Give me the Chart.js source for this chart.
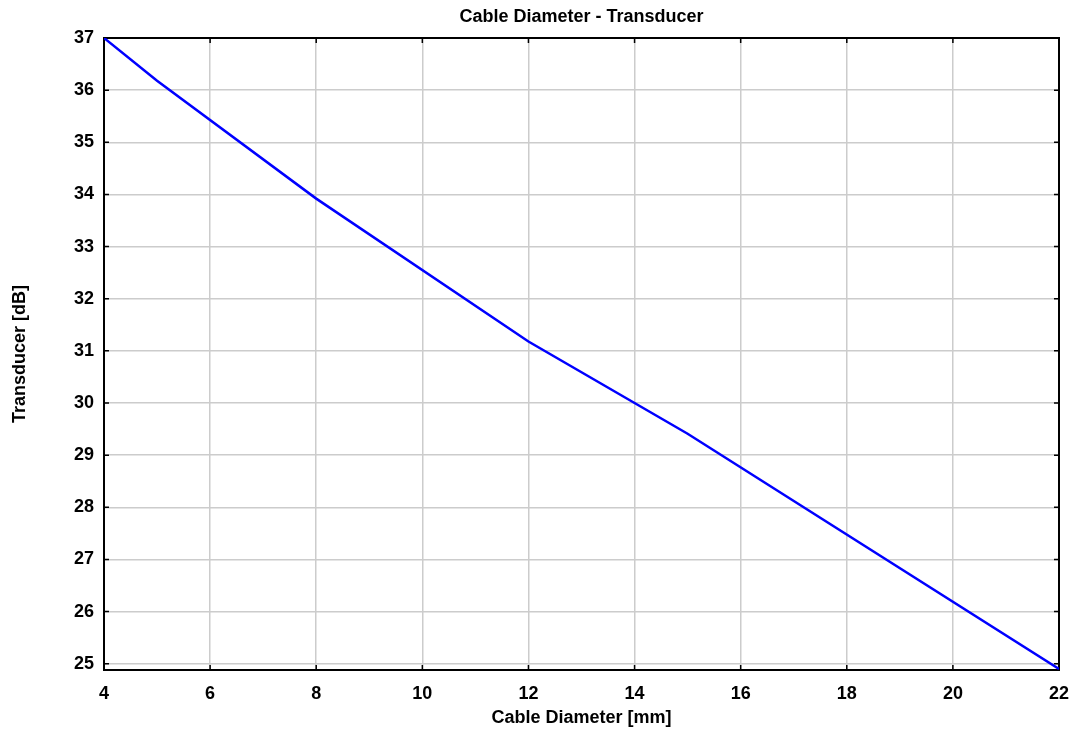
<!DOCTYPE html>
<html>
<head>
<meta charset="utf-8">
<script src="https://cdn.jsdelivr.net/npm/chart.js@4"></script>
<style>
  html, body { margin: 0; padding: 0; background: #ffffff; }
  #wrap { width: 1075px; height: 733px; position: relative; }
</style>
</head>
<body>
<div id="wrap"><canvas id="c" width="1075" height="733"></canvas></div>
<script>
const chartTitle = "Cable Diameter - Transducer";
const xAxisTitle = "Cable Diameter [mm]";
const yAxisTitle = "Transducer [dB]";
const cableDiameter = [4, 5, 8, 12, 15, 22];
const transducer = [37, 36.18, 33.92, 31.18, 29.41, 24.9];
const xTicks = [4, 6, 8, 10, 12, 14, 16, 18, 20, 22];
const yTicks = [25, 26, 27, 28, 29, 30, 31, 32, 33, 34, 35, 36, 37];

const FONT = "'Liberation Sans', Arial, sans-serif";

const framePlugin = {
  id: 'frame',
  beforeDatasetsDraw(chart) {
    const ctx = chart.ctx;
    const a = chart.chartArea;
    const xs = chart.scales.x, ys = chart.scales.y;
    ctx.save();
    ctx.strokeStyle = '#000000';
    ctx.lineWidth = 1.5;
    const L = 5;
    ctx.beginPath();
    xTicks.forEach(v => {
      const px = xs.getPixelForValue(v);
      ctx.moveTo(px, a.bottom); ctx.lineTo(px, a.bottom - L);
      ctx.moveTo(px, a.top); ctx.lineTo(px, a.top + L);
    });
    yTicks.forEach(v => {
      const py = ys.getPixelForValue(v);
      ctx.moveTo(a.left, py); ctx.lineTo(a.left + L, py);
      ctx.moveTo(a.right, py); ctx.lineTo(a.right - L, py);
    });
    ctx.stroke();
    ctx.lineWidth = 2;
    ctx.strokeRect(a.left, a.top, a.right - a.left, a.bottom - a.top);
    ctx.restore();
  },
  afterDraw(chart) {
    const ctx = chart.ctx;
    const a = chart.chartArea;
    ctx.save();
    ctx.fillStyle = '#000000';
    ctx.font = "bold 18px " + FONT;
    ctx.textAlign = 'center';
    ctx.textBaseline = 'middle';
    ctx.fillText(chartTitle, (a.left + a.right) / 2, 17);
    ctx.restore();
  }
};

new Chart(document.getElementById('c'), {
  type: 'scatter',
  data: {
    datasets: [{
      data: cableDiameter.map((x, i) => ({ x: x, y: transducer[i] })),
      showLine: true,
      borderColor: '#0000ff',
      borderWidth: 2.5,
      pointRadius: 0,
      fill: false,
      tension: 0
    }]
  },
  options: {
    responsive: false,
    animation: false,
    layout: { padding: { left: 0, right: 16, top: 38, bottom: 0 } },
    plugins: {
      legend: { display: false },
      tooltip: { enabled: false },
      title: { display: false }
    },
    scales: {
      x: {
        type: 'linear',
        min: 4, max: 22,
        afterBuildTicks: s => { s.ticks = xTicks.map(v => ({ value: v })); },
        afterFit: s => { s.height = 63; s.paddingLeft = 0; s.paddingRight = 0; },
        grid: { color: '#cccccc', lineWidth: 1.5, drawTicks: false },
        border: { display: false },
        ticks: { color: '#000000', font: { family: FONT, size: 18, weight: 'bold' }, padding: 13, maxRotation: 0 },
        title: { display: true, text: xAxisTitle, color: '#000000', font: { family: FONT, size: 18, weight: 'bold' }, padding: { top: 0, bottom: 4 } }
      },
      y: {
        type: 'linear',
        min: 24.88, max: 37,
        afterBuildTicks: s => { s.ticks = yTicks.map(v => ({ value: v })); },
        afterFit: s => { s.width = 104; s.paddingTop = 0; s.paddingBottom = 0; },
        grid: { color: '#cccccc', lineWidth: 1.5, drawTicks: false },
        border: { display: false },
        ticks: { color: '#000000', font: { family: FONT, size: 18, weight: 'bold' }, padding: 10 },
        title: { display: true, text: yAxisTitle, color: '#000000', font: { family: FONT, size: 18, weight: 'bold' }, padding: { top: 9, bottom: 4 } }
      }
    }
  },
  plugins: [framePlugin]
});
</script>
</body>
</html>
